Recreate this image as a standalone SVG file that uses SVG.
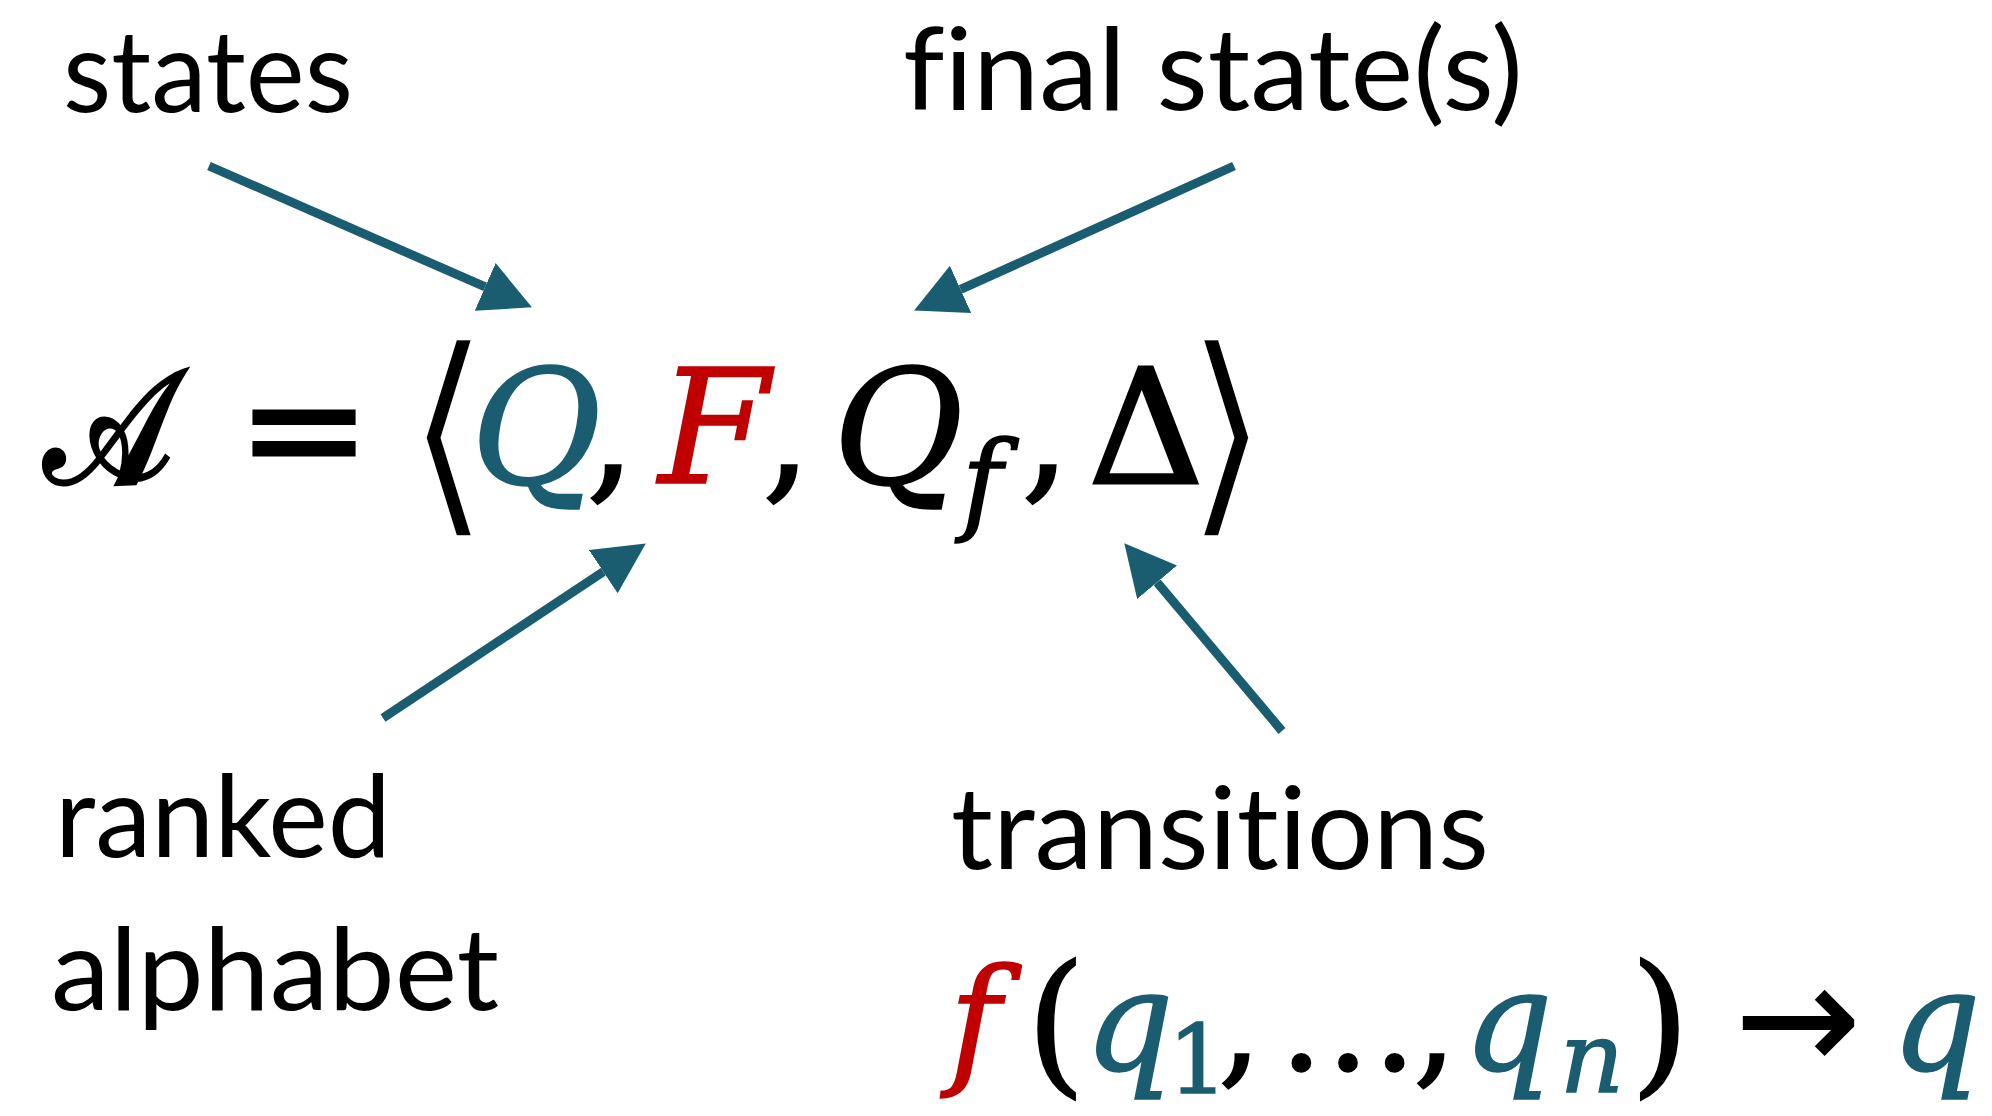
<svg xmlns="http://www.w3.org/2000/svg" width="1992" height="1116" viewBox="0 0 1992 1116">
<style>
.lbl{font-family:Lato,"Open Sans",sans-serif;font-size:114px;fill:#000;font-variant-ligatures:none;font-feature-settings:"liga" 0,"dlig" 0}
.m{font-family:"DejaVu Serif","Liberation Serif",serif;font-style:italic;text-anchor:middle}
.u{font-family:"DejaVu Serif","Liberation Serif",serif;font-style:normal;text-anchor:middle}
.s{font-family:"DejaVu Sans","Liberation Sans",sans-serif;text-anchor:middle}
.br{fill:#000;stroke:#fff;stroke-width:4.5;paint-order:fill}
.teal{fill:#1A5C70;stroke:#1A5C70;stroke-width:1.5}
.red{fill:#C00000;stroke:#C00000;stroke-width:1.5}
.blk{fill:#000;stroke:#000;stroke-width:1.5}
.arr{stroke:#1A5C70;stroke-width:9;fill:none;marker-end:url(#ah)}
</style>
<defs>
<marker id="ah" markerUnits="userSpaceOnUse" markerWidth="52" markerHeight="54" refX="0" refY="26" orient="auto" viewBox="0 0 52 52">
<path d="M0,0 L51,26 L0,52 z" fill="#1A5C70"/>
</marker>
</defs>
<rect width="1992" height="1116" fill="#fff"/>
<g id="label-states"><text class="lbl" x="63" y="112" textLength="290" lengthAdjust="spacingAndGlyphs">states</text></g>
<g id="label-final"><text class="lbl" x="903" y="110" textLength="620" lengthAdjust="spacingAndGlyphs">final state(s)</text></g>
<g id="label-ranked"><text class="lbl" x="55" y="857" textLength="336" lengthAdjust="spacingAndGlyphs">ranked</text>
<text class="lbl" x="51" y="1010" textLength="448" lengthAdjust="spacingAndGlyphs">alphabet</text></g>
<g id="label-transitions"><text class="lbl" x="951" y="869" textLength="538" lengthAdjust="spacingAndGlyphs">transitions</text></g>
<g id="formula-top">
<text class="u blk" x="0" y="0" font-size="160" transform="translate(108,483) scale(0.85,1)" style="stroke-width:5">𝒜</text>
<text class="u blk" x="304" y="483" font-size="160" style="stroke-width:3">=</text>
<text class="s br" x="448" y="508" font-size="224">⟨</text>
<text class="m teal" x="536" y="483" font-size="160">Q</text>
<text class="u blk" x="611" y="483" font-size="160">,</text>
<text class="m red" x="714" y="483" font-size="160">F</text>
<text class="u blk" x="787" y="483" font-size="160">,</text>
<text class="m blk" x="898" y="483" font-size="160">Q</text>
<text class="m blk" x="982" y="520" font-size="110">f</text>
<text class="u blk" x="1046" y="483" font-size="160">,</text>
<text class="u blk" x="1146" y="483" font-size="160" style="stroke-width:3">Δ</text>
<text class="s br" x="1227" y="508" font-size="224">⟩</text>
</g>
<g id="formula-bottom">
<text class="m red" x="975" y="1069" font-size="140">f</text>
<text class="u blk" x="1056" y="1076" font-size="155">(</text>
<text class="m teal" x="1129" y="1070" font-size="140">q</text>
<text class="u teal" x="1198" y="1093" font-size="95">1</text>
<text class="u blk" x="1240" y="1070" font-size="140">,</text>
<text class="u blk" x="1348" y="1070" font-size="140">…</text>
<text class="u blk" x="1435" y="1070" font-size="140">,</text>
<text class="m teal" x="1508" y="1070" font-size="140">q</text>
<text class="m teal" x="1592" y="1092" font-size="100">n</text>
<text class="u blk" x="1660" y="1076" font-size="155">)</text>
<text class="s blk" x="1798" y="1070" font-size="150">→</text>
<text class="m teal" x="1936" y="1070" font-size="140">q</text>
</g>
<g id="connectors">
<path class="arr" d="M209,166 L485.2,286.9"/>
<path class="arr" d="M1234,166 L960.6,289.4"/>
<path class="arr" d="M383,718 L603.3,571.7"/>
<path class="arr" d="M1282,731 L1157.1,582.3"/>
</g>
</svg>
